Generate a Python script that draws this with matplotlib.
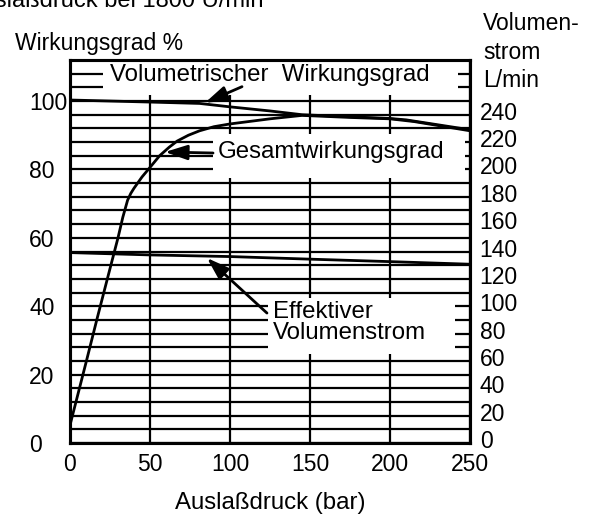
import numpy as np
import matplotlib
matplotlib.use('Agg')
import matplotlib.pyplot as plt
from matplotlib.patches import Rectangle
from matplotlib.transforms import ScaledTranslation

plt.rcParams['font.family'] = ['Liberation Sans', 'DejaVu Sans']
plt.rcParams['font.size'] = 16.5

# Gesamtwirkungsgrad (%) ueber Auslassdruck (bar)
druck_ges = [0, 10, 17, 25, 30, 33, 36, 38, 40, 45, 50, 56, 62, 67, 74, 81, 90, 100,
             125, 145, 175, 200, 215, 250]
ges_wirk = [5.2, 23.5, 36.5, 51, 60, 66, 71, 73, 74.5, 77.8, 80.6, 84, 86.5, 88.3,
            90, 91.3, 92.5, 93.3, 94.8, 95.8, 95.2, 94.8, 94.0, 91.3]

# Volumetrischer Wirkungsgrad (%)
druck_vol = [0, 50, 81, 100, 125, 145, 175, 200, 210, 250]
vol_wirk = [100.3, 99.7, 99.3, 98.3, 97.1, 96.0, 95.4, 94.9, 94.5, 91.6]

# Effektiver Volumenstrom (L/min)
druck_q = [0, 50, 100, 150, 200, 250]
volumenstrom = [139.2, 137.5, 136.3, 134.4, 132.6, 130.7]

x_ticks = [0, 50, 100, 150, 200, 250]
wirk_ticks = [0, 20, 40, 60, 80, 100]
q_ticks = list(range(0, 241, 20))

fig = plt.figure(figsize=(6.01, 5.15), dpi=100)
ax = fig.add_axes([70 / 601, 72 / 515, 400 / 601, 383 / 515])

ax.set_xlim(0, 250)
ax.set_ylim(0, 112)
ax.set_xticks(x_ticks)
ax.set_yticks(wirk_ticks)
ax.set_yticks(np.arange(0, 113, 4), minor=True)
ax.set_axisbelow(True)
ax.grid(which='both', color='black', lw=1.6)
ax.tick_params(which='both', length=0)
ax.tick_params(axis='x', pad=7)
ax.tick_params(axis='y', pad=29.5)
for t in ax.get_yticklabels():
    t.set_horizontalalignment('left')
for s in ax.spines.values():
    s.set_linewidth(2.2)
    s.set_zorder(6)

ax.plot(druck_vol, vol_wirk, color='black', lw=2, zorder=3)
ax.plot(druck_ges, ges_wirk, color='black', lw=2, zorder=3)

# weisse Beschriftungsfelder ueber dem Raster
for (x0, y0, x1, y1) in [(0.0825, 0.9086, 0.97, 1.0),
                         (0.3575, 0.692, 0.9875, 0.807),
                         (0.495, 0.2324, 0.9625, 0.3786)]:
    ax.add_patch(Rectangle((x0, y0), x1 - x0, y1 - y0, transform=ax.transAxes,
                           facecolor='white', edgecolor='none', zorder=1))

fs_lab = 17.3
ax.text(0.1, 0.961, 'Volumetrischer  Wirkungsgrad', transform=ax.transAxes,
        ha='left', va='center', zorder=4, fontsize=fs_lab)
ax.text(0.37, 0.76, 'Gesamtwirkungsgrad', transform=ax.transAxes,
        ha='left', va='center', zorder=4, fontsize=fs_lab)
ax.text(0.5075, 0.342, 'Effektiver', transform=ax.transAxes,
        ha='left', va='center', zorder=4, fontsize=fs_lab)
ax.text(0.5075, 0.287, 'Volumenstrom', transform=ax.transAxes,
        ha='left', va='center', zorder=4, fontsize=fs_lab)

pfeil = dict(arrowstyle='-|>,head_length=0.9,head_width=0.3', color='black',
             lw=2, mutation_scale=15, shrinkA=0, shrinkB=0)
ax.annotate('', xy=(84.4, 99.5), xytext=(107.5, 104.2), arrowprops=pfeil, zorder=5)
ax.annotate('', xy=(59.4, 85.1), xytext=(89.4, 84.8), arrowprops=pfeil, zorder=5)
ax.annotate('', xy=(85.6, 54.1), xytext=(123.1, 38.0), arrowprops=pfeil, zorder=5)

ax.set_xlabel('Auslaßdruck (bar)', labelpad=12, fontsize=17.3)

ax2 = ax.twinx()
ax2.set_ylim(0, 280)
ax2.set_yticks(q_ticks)
ax2.tick_params(length=0, pad=7)
hoch = ScaledTranslation(0, 4 / 100, fig.dpi_scale_trans)
for t in ax2.get_yticklabels():
    t.set_transform(t.get_transform() + hoch)
for s in ax2.spines.values():
    s.set_linewidth(2.2)
ax2.plot(druck_q, volumenstrom, color='black', lw=2)

fig.text(15 / 601, 1 - 50 / 515, 'Wirkungsgrad %', ha='left', va='baseline')
fig.text(483 / 601, 1 - 30 / 515, 'Volumen-', ha='left', va='baseline')
fig.text(483 / 601, 1 - 59 / 515, 'strom', ha='left', va='baseline')
fig.text(483 / 601, 1 - 87 / 515, 'L/min', ha='left', va='baseline')
fig.text(263 / 601, 1 - 7 / 515, 'Auslaßdruck bei 1800 U/min', ha='right',
         va='baseline', fontsize=17)

fig.savefig('out.png', dpi=100)
